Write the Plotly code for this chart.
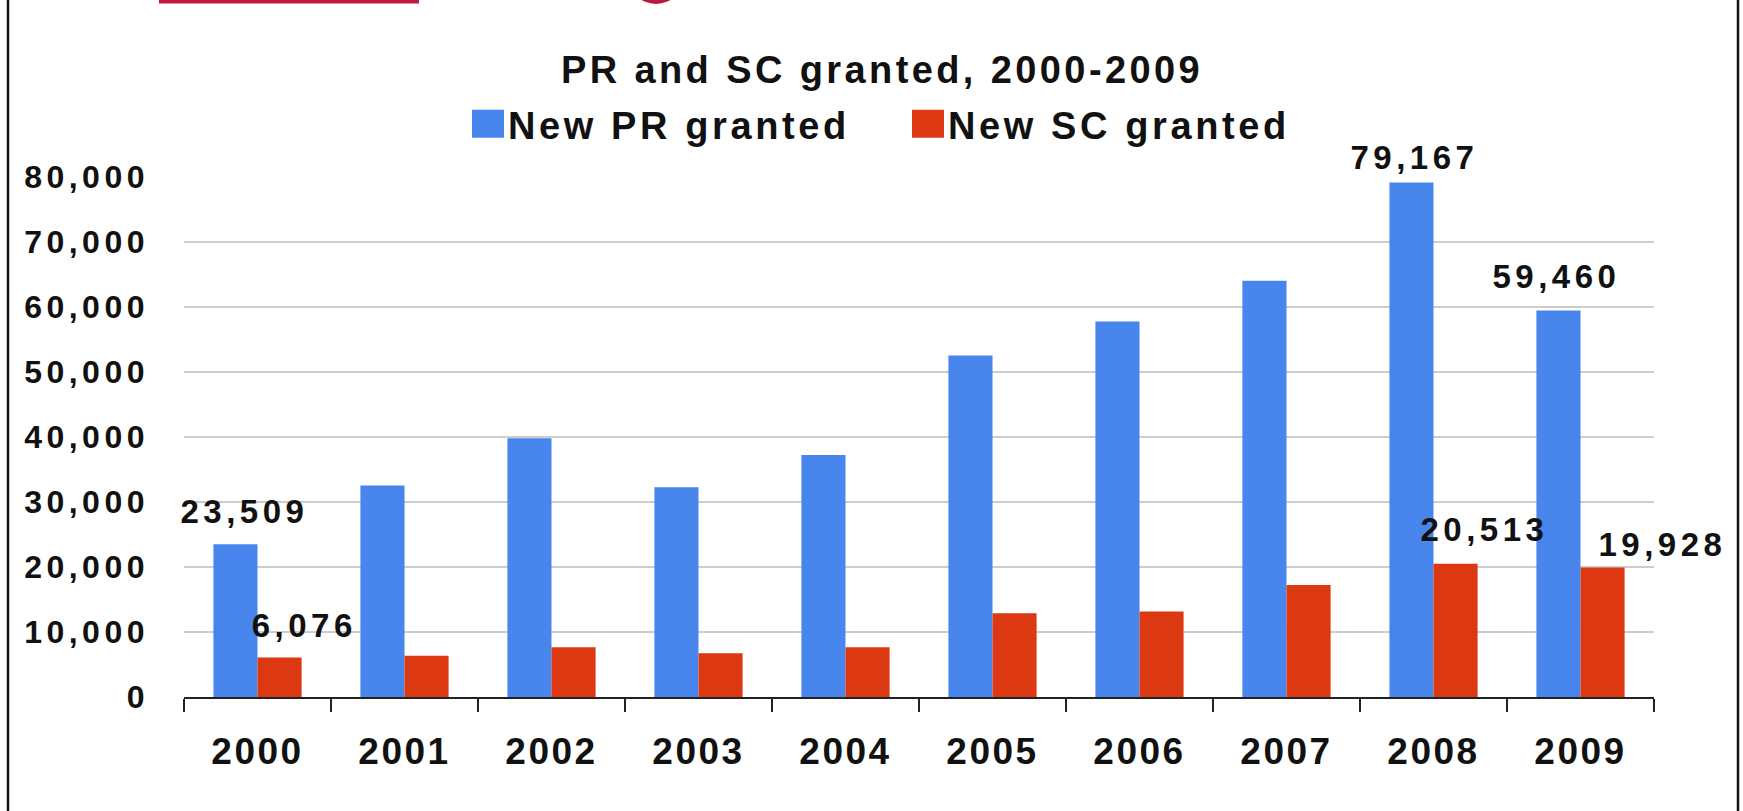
import plotly.graph_objects as go

# ---------------- data ----------------
years = ["2000", "2001", "2002", "2003", "2004", "2005", "2006", "2007", "2008", "2009"]
pr_granted = [23509, 32540, 39810, 32270, 37230, 52530, 57760, 64040, 79167, 59460]
sc_granted = [6076, 6350, 7650, 6720, 7650, 12890, 13160, 17240, 20513, 19928]
labelled_years = ["2000", "2008", "2009"]
y_ticks = [0, 10000, 20000, 30000, 40000, 50000, 60000, 70000, 80000]
title_text = "PR and SC granted, 2000-2009"
pr_name = "New PR granted"
sc_name = "New SC granted"

# ---------------- styling ----------------
W, H = 1743, 811
ML, MR, MT, MB = 184, 89, 177, 114
PW, PH = W - ML - MR, H - MT - MB
BLUE = "#4885EC"
RED = "#DC3912"
FONT = "Liberation Sans, Arial, sans-serif"

def px_x(px):
    return (px - ML) / PW

def px_y(py):
    return (H - MB - py) / PH

# label offsets (pixels) relative to the category centre / bar top
pr_label_shift = {"2000": (-13, 12), "2008": (-19, 4), "2009": (-24, 14)}
sc_label_shift = {"2000": (47, 12), "2008": (51, 14), "2009": (82, 2)}

fig = go.Figure()
fig.add_trace(go.Bar(x=years, y=pr_granted, name=pr_name, marker=dict(color=BLUE, line=dict(width=0))))
fig.add_trace(go.Bar(x=years, y=sc_granted, name=sc_name, marker=dict(color=RED, line=dict(width=0))))

for yr in labelled_years:
    i = years.index(yr)
    for vals, shifts in ((pr_granted, pr_label_shift), (sc_granted, sc_label_shift)):
        dx, dy = shifts[yr]
        fig.add_annotation(
            x=i, y=vals[i], xref="x", yref="y", text="{:,}".format(vals[i]),
            showarrow=False, xanchor="center", yanchor="bottom",
            xshift=dx, yshift=dy,
            font=dict(family=FONT, size=33, color="#111111"),
        )

shapes = [
    # frame lines of the slide
    dict(type="line", xref="paper", yref="paper", x0=px_x(8), x1=px_x(8), y0=px_y(-5), y1=px_y(H + 5),
         line=dict(color="#111111", width=2.5)),
    dict(type="line", xref="paper", yref="paper", x0=px_x(1738), x1=px_x(1738), y0=px_y(-5), y1=px_y(H + 5),
         line=dict(color="#111111", width=2.5)),
    # cropped header decorations
    dict(type="rect", xref="paper", yref="paper", x0=px_x(159), x1=px_x(419), y0=px_y(-5), y1=px_y(3.5),
         fillcolor="#BE1A3E", line=dict(width=0)),
    dict(type="circle", xref="paper", yref="paper", x0=px_x(628), x1=px_x(684), y0=px_y(-52), y1=px_y(4),
         fillcolor="#B8163A", line=dict(width=0)),
]

fig.update_layout(
    width=W, height=H,
    margin=dict(l=ML, r=MR, t=MT, b=MB, pad=0),
    paper_bgcolor="white", plot_bgcolor="white",
    barmode="group", bargap=0.40, bargroupgap=0.0,
    font=dict(family=FONT, color="#111111", weight="bold"),
    title=dict(text=title_text, x=882 / W, xanchor="center", y=1 - 70 / H, yanchor="middle",
               xref="container", yref="container",
               font=dict(family=FONT, size=38, color="#111111", weight="bold")),
    legend=dict(orientation="h", x=px_x(468), xanchor="left", y=px_y(124), yanchor="middle",
                font=dict(family=FONT, size=38, color="#111111", weight="bold"),
                entrywidth=395, entrywidthmode="pixels", bgcolor="rgba(0,0,0,0)",
                borderwidth=0, itemclick=False, itemdoubleclick=False),
    xaxis=dict(type="category", range=[-0.5, 9.5], showgrid=False, zeroline=False,
               showline=True, linecolor="#222222", linewidth=2,
               ticks="outside", tickson="boundaries", ticklen=13, tickwidth=2, tickcolor="#222222",
               ticklabelstandoff=21,
               tickfont=dict(family=FONT, size=37, color="#111111", weight="bold")),
    yaxis=dict(range=[0, 80000], tickvals=y_ticks, tickformat=",", showgrid=True,
               gridcolor="#cdcdcd", gridwidth=2, zeroline=False, showline=False, ticks="",
               ticklabelstandoff=34,
               tickfont=dict(family=FONT, size=32, color="#111111", weight="bold")),
    shapes=shapes,
    showlegend=True,
)

post = """
document.body.style.margin='0';
document.body.style.overflow='hidden';
var gd = document.getElementById('{plot_id}');
function ls(sel, v){ gd.querySelectorAll(sel).forEach(function(t){ t.style.letterSpacing = v + 'px'; }); }
ls('.gtitle', 3.4);
ls('.legendtext', 3.6);
ls('.ytick text', 4.5);
ls('.xtick text', 2.5);
ls('.annotation-text', 4.5);
gd.querySelectorAll('.legendpoints path').forEach(function(p){ p.setAttribute('d', 'M16,14H-16V-14H16Z'); });
"""

fig.write_html("out.html", config={"displayModeBar": False}, post_script=post)
